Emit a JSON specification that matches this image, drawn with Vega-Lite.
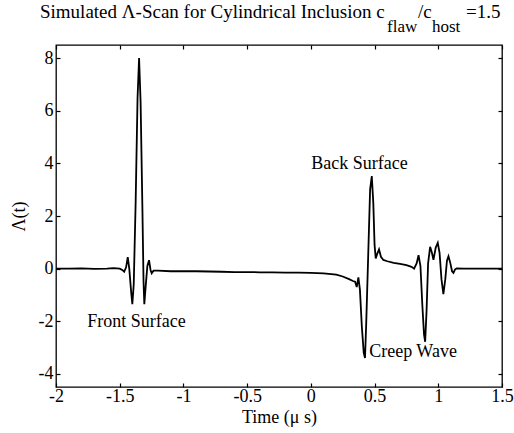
{
  "$schema": "https://vega.github.io/schema/vega-lite/v6.json",
  "autosize": "none",
  "width": 446,
  "height": 342,
  "padding": {"left": 56, "top": 45, "right": 12, "bottom": 46},
  "background": "white",
  "config": {
    "font": "Liberation Serif",
    "view": {"stroke": "black", "strokeWidth": 1.3},
    "axis": {
      "domain": false,
      "grid": false,
      "ticks": true,
      "tickColor": "black",
      "tickSize": -4,
      "tickWidth": 1.2,
      "labelFont": "Liberation Serif",
      "labelFontSize": 18,
      "labelColor": "black",
      "titleFont": "Liberation Serif",
      "titleFontSize": 18,
      "titleFontWeight": "normal",
      "titleColor": "black"
    }
  },
  "datasets": {
    "scan": [
      {"t": -2.0, "a": 0.0}, {"t": -1.9, "a": 0.0}, {"t": -1.8, "a": 0.01}, {"t": -1.7, "a": -0.01},
      {"t": -1.6, "a": 0.0}, {"t": -1.55, "a": 0.02}, {"t": -1.5, "a": 0.0}, {"t": -1.48, "a": -0.05},
      {"t": -1.465, "a": -0.12}, {"t": -1.45, "a": 0.05}, {"t": -1.437, "a": 0.44}, {"t": -1.425, "a": 0.0},
      {"t": -1.41, "a": -0.9}, {"t": -1.401, "a": -1.35}, {"t": -1.39, "a": -0.6}, {"t": -1.375, "a": 2.5},
      {"t": -1.36, "a": 6.5}, {"t": -1.348, "a": 8.0}, {"t": -1.336, "a": 6.3}, {"t": -1.322, "a": 2.3},
      {"t": -1.313, "a": -0.5}, {"t": -1.307, "a": -1.35}, {"t": -1.295, "a": -0.6}, {"t": -1.283, "a": 0.1},
      {"t": -1.27, "a": 0.32}, {"t": -1.258, "a": -0.05}, {"t": -1.249, "a": -0.18}, {"t": -1.235, "a": -0.08},
      {"t": -1.2, "a": -0.08}, {"t": -1.1, "a": -0.1}, {"t": -1.0, "a": -0.1}, {"t": -0.9, "a": -0.1},
      {"t": -0.8, "a": -0.11}, {"t": -0.7, "a": -0.12}, {"t": -0.6, "a": -0.13}, {"t": -0.5, "a": -0.13},
      {"t": -0.4, "a": -0.14}, {"t": -0.3, "a": -0.14}, {"t": -0.2, "a": -0.15}, {"t": -0.1, "a": -0.15},
      {"t": 0.0, "a": -0.16}, {"t": 0.1, "a": -0.18}, {"t": 0.2, "a": -0.23}, {"t": 0.25, "a": -0.3},
      {"t": 0.3, "a": -0.4}, {"t": 0.33, "a": -0.47}, {"t": 0.347, "a": -0.5}, {"t": 0.36, "a": -0.7},
      {"t": 0.373, "a": -0.33}, {"t": 0.385, "a": -0.8}, {"t": 0.4, "a": -2.2}, {"t": 0.415, "a": -3.2},
      {"t": 0.425, "a": -3.4}, {"t": 0.435, "a": -2.0}, {"t": 0.45, "a": 0.5}, {"t": 0.465, "a": 3.0},
      {"t": 0.478, "a": 3.52}, {"t": 0.49, "a": 2.5}, {"t": 0.5, "a": 0.9}, {"t": 0.509, "a": 0.39},
      {"t": 0.52, "a": 0.55}, {"t": 0.535, "a": 0.73}, {"t": 0.55, "a": 0.45}, {"t": 0.569, "a": 0.33},
      {"t": 0.6, "a": 0.28}, {"t": 0.65, "a": 0.22}, {"t": 0.7, "a": 0.18}, {"t": 0.75, "a": 0.13},
      {"t": 0.79, "a": 0.07}, {"t": 0.81, "a": 0.0}, {"t": 0.83, "a": 0.2}, {"t": 0.845, "a": 0.51},
      {"t": 0.86, "a": 0.1}, {"t": 0.875, "a": -1.4}, {"t": 0.888, "a": -2.5}, {"t": 0.897, "a": -2.78},
      {"t": 0.908, "a": -1.6}, {"t": 0.92, "a": 0.2}, {"t": 0.936, "a": 0.83}, {"t": 0.95, "a": 0.6},
      {"t": 0.962, "a": 0.33}, {"t": 0.98, "a": 0.8}, {"t": 0.996, "a": 0.98}, {"t": 1.01, "a": 0.6},
      {"t": 1.025, "a": -0.4}, {"t": 1.04, "a": -0.97}, {"t": 1.055, "a": -0.4}, {"t": 1.068, "a": 0.3},
      {"t": 1.08, "a": 0.47}, {"t": 1.095, "a": 0.2}, {"t": 1.108, "a": -0.1}, {"t": 1.119, "a": -0.16},
      {"t": 1.132, "a": -0.03}, {"t": 1.145, "a": 0.01}, {"t": 1.2, "a": 0.0}, {"t": 1.3, "a": 0.0},
      {"t": 1.4, "a": 0.0}, {"t": 1.5, "a": 0.0}
    ],
    "labels": [
      {"label": "Front Surface", "t": -1.368, "a": -2.02},
      {"label": "Back Surface", "t": 0.382, "a": 3.98},
      {"label": "Creep Wave", "t": 0.802, "a": -3.16}
    ],
    "titleMain": [
      {"label": "Simulated Λ-Scan for Cylindrical Inclusion c", "t": -2.1256, "a": 9.515},
      {"label": "/c", "t": 0.8408, "a": 9.515},
      {"label": "=1.5", "t": 1.2175, "a": 9.515}
    ],
    "titleSub": [
      {"label": "flaw", "t": 0.5975, "a": 9.006},
      {"label": "host", "t": 0.9506, "a": 9.006}
    ]
  },
  "resolve": {"axis": {"x": "independent", "y": "independent"}},
  "layer": [
    {
      "data": {"name": "scan"},
      "mark": {"type": "line", "color": "black", "strokeWidth": 1.8, "clip": true},
      "encoding": {
        "x": {"field": "t", "type": "quantitative",
              "scale": {"domain": [-2, 1.5], "nice": false, "zero": false},
              "axis": {"orient": "bottom", "values": [-2, -1.5, -1, -0.5, 0, 0.5, 1, 1.5], "labelExpr": "'' + datum.value", "title": "Time (μ s)", "labelPadding": 4, "titlePadding": 3, "labelFlush": false}},
        "y": {"field": "a", "type": "quantitative",
              "scale": {"domain": [-4.5, 8.5], "nice": false, "zero": false},
              "axis": {"orient": "left", "values": [-4, -2, 0, 2, 4, 6, 8], "labelExpr": "'' + datum.value", "title": "Λ(t)", "labelPadding": 7, "titlePadding": 10}}
      }
    },
    {
      "data": {"name": "labels"},
      "mark": {"type": "text", "font": "Liberation Serif", "fontSize": 18, "color": "black", "align": "center", "baseline": "middle"},
      "encoding": {
        "x": {"field": "t", "type": "quantitative",
              "axis": {"orient": "top", "values": [-2, -1.5, -1, -0.5, 0, 0.5, 1, 1.5], "labels": false, "title": null}},
        "y": {"field": "a", "type": "quantitative",
              "axis": {"orient": "right", "values": [-4, -2, 0, 2, 4, 6, 8], "labels": false, "title": null}},
        "text": {"field": "label"}
      }
    },
    {
      "data": {"name": "titleMain"},
      "mark": {"type": "text", "font": "Liberation Serif", "fontSize": 19, "color": "black", "align": "left", "baseline": "alphabetic"},
      "encoding": {
        "x": {"field": "t", "type": "quantitative", "axis": null},
        "y": {"field": "a", "type": "quantitative", "axis": null},
        "text": {"field": "label"}
      }
    },
    {
      "data": {"name": "titleSub"},
      "mark": {"type": "text", "font": "Liberation Serif", "fontSize": 17, "color": "black", "align": "left", "baseline": "alphabetic"},
      "encoding": {
        "x": {"field": "t", "type": "quantitative", "axis": null},
        "y": {"field": "a", "type": "quantitative", "axis": null},
        "text": {"field": "label"}
      }
    }
  ]
}
